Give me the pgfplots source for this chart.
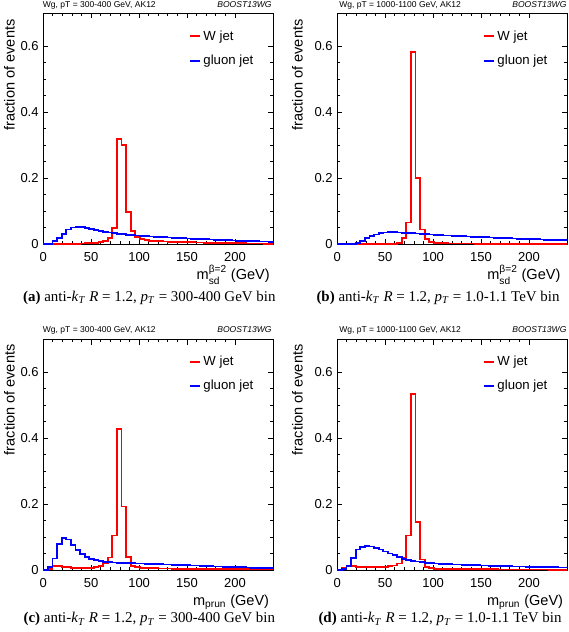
\documentclass[border=0pt]{standalone}
\usepackage{fontspec}
\setmainfont{Liberation Sans}
\newfontfamily\capfont{Liberation Serif}
\usepackage{amsmath}
\usepackage{pgfplots}
\usepackage{pgfplotstable}
\pgfplotsset{compat=1.18}
\definecolor{hred}{RGB}{255,0,0}
\definecolor{hblue}{RGB}{0,0,255}

% bin index i: bin covers [4.8 i, 4.8 (i+1)] GeV; row 50 closes the last bin at 240
\pgfplotstableread{
i  aR     aB     bR     bB     cR     cB     dR     dB
0  0      0.0005 0      0      0.001  0.001  0.001  0.001
1  0      0.002  0      0.0005 0.003  0.008  0.005  0.003
2  0.0005 0.009  0      0.001  0.013  0.035  0.013  0.012
3  0.001  0.018  0      0.002  0.013  0.080  0.012  0.037
4  0.001  0.031  0      0.005  0.010  0.098  0.010  0.062
5  0.0015 0.045  0.0003 0.011  0.008  0.093  0.009  0.070
6  0.002  0.051  0.0003 0.018  0.007  0.075  0.008  0.072
7  0.002  0.053  0.0003 0.025  0.006  0.060  0.008  0.071
8  0.0025 0.052  0.0003 0.030  0.006  0.048  0.008  0.067
9  0.003  0.049  0.0003 0.034  0.006  0.040  0.009  0.062
10 0.004  0.046  0.0008 0.036  0.007  0.034  0.010  0.056
11 0.005  0.043  0.001  0.037  0.009  0.030  0.012  0.050
12 0.007  0.040  0.0015 0.037  0.013  0.027  0.014  0.045
13 0.010  0.038  0.004  0.036  0.020  0.025  0.020  0.039
14 0.018  0.036  0.018  0.035  0.038  0.024  0.036  0.034
15 0.050  0.034  0.066  0.035  0.105  0.023  0.105  0.030
16 0.320  0.032  0.582  0.034  0.428  0.022  0.535  0.028
17 0.300  0.031  0.200  0.033  0.193  0.022  0.145  0.026
18 0.097  0.029  0.045  0.032  0.040  0.021  0.032  0.024
19 0.040  0.028  0.017  0.031  0.013  0.0205 0.010  0.022
20 0.021  0.027  0.008  0.030  0.009  0.020  0.005  0.021
21 0.015  0.026  0.005  0.029  0.007  0.0195 0.004  0.020
22 0.012  0.025  0.0035 0.028  0.006  0.019  0.0035 0.019
23 0.011  0.024  0.003  0.027  0.0055 0.0185 0.003  0.018
24 0.010  0.023  0.0027 0.0265 0.005  0.018  0.003  0.0175
25 0.009  0.022  0.0025 0.026  0.0048 0.0175 0.0028 0.017
26 0.0085 0.021  0.0024 0.025  0.0045 0.017  0.0027 0.0165
27 0.008  0.0205 0.0023 0.0245 0.0043 0.0165 0.0026 0.016
28 0.0075 0.020  0.0022 0.024  0.004  0.016  0.0025 0.0155
29 0.007  0.019  0.0021 0.023  0.0038 0.0155 0.0024 0.015
30 0.0068 0.018  0.002  0.022  0.0036 0.015  0.0023 0.0145
31 0.0065 0.0175 0.002  0.0215 0.0034 0.0145 0.0022 0.014
32 0.006  0.017  0.0019 0.021  0.0032 0.014  0.0021 0.0135
33 0.0057 0.0165 0.0019 0.0205 0.003  0.0135 0.002  0.013
34 0.0054 0.016  0.0018 0.020  0.0029 0.013  0.002  0.0125
35 0.005  0.0152 0.0018 0.019  0.0028 0.012  0.0019 0.012
36 0.0048 0.0145 0.0017 0.0185 0.0027 0.0115 0.0018 0.0117
37 0.0045 0.014  0.0016 0.018  0.0026 0.011  0.0017 0.0114
38 0.0042 0.0133 0.0016 0.0175 0.0025 0.0105 0.0016 0.011
39 0.004  0.0127 0.0015 0.017  0.0024 0.010  0.0016 0.0107
40 0.0037 0.012  0.0015 0.0165 0.0023 0.0095 0.0015 0.0104
41 0.0035 0.0115 0.0014 0.016  0.0022 0.009  0.0014 0.010
42 0.0033 0.011  0.0014 0.0155 0.0021 0.0085 0.0014 0.0097
43 0.003  0.0105 0.0013 0.015  0.002  0.008  0.0013 0.0094
44 0.0028 0.010  0.0013 0.0145 0.002  0.0075 0.0012 0.009
45 0.0026 0.0095 0.0012 0.014  0.0019 0.007  0.0012 0.0087
46 0.0024 0.009  0.0012 0.0135 0.0018 0.0065 0.0011 0.0084
47 0.0022 0.0087 0.0011 0.013  0.0018 0.006  0.0011 0.0081
48 0.002  0.0083 0.0011 0.0125 0.0017 0.0055 0.001  0.0078
49 0.002  0.008  0.001  0.012  0.0017 0.005  0.001  0.0075
50 0.002  0.008  0.001  0.012  0.0017 0.005  0.001  0.0075
}\histdata

\pgfplotsset{
  histax/.style={
    scale only axis, width=172.5pt,
    xmin=0, xmax=240, ymin=0, ymax=0.7,
    xtick={0,50,100,150,200}, ytick={0,0.2,0.4,0.6},
    minor x tick num=4, minor y tick num=3,
    major tick length=3.8pt, minor tick length=2.2pt,
    tick style={black, line width=0.6pt},
    axis line style={line width=0.75pt},
    ticklabel style={font=\fontsize{9.75}{11}\selectfont},
    /pgf/number format/assume math mode=true,
    yticklabel style={/pgf/number format/fixed},
    xticklabel style={yshift=-2.5pt},
    legend style={draw=none, fill=none, at={(0.617,0.95)}, anchor=north west,
      font=\fontsize{9.9}{11}\selectfont, row sep=6.5pt,
      nodes={inner sep=1.5pt}},
    legend cell align=left,
  },
  wjet/.style={draw=hred, color=hred, line width=1.3pt, const plot, mark=none},
  gjet/.style={draw=hblue, color=hblue, line width=1.3pt, const plot, mark=none},
}

\newcommand\hdrfont{\fontsize{6.4}{7}\selectfont}
\newcommand\ttlfont{\fontsize{10.9}{13}\selectfont}
\newcommand\capfnt{\capfont\fontsize{11.2}{13}\selectfont}
\newcommand\legw{\addlegendimage{legend image code/.code={\draw[draw=hred,line width=1.5pt] (0pt,0pt) -- (7.5pt,0pt);}}\addlegendentry{W jet}}
\newcommand\legg{\addlegendimage{legend image code/.code={\draw[draw=hblue,line width=1.5pt] (0pt,0pt) -- (7.5pt,0pt);}}\addlegendentry{gluon jet}}

\begin{document}
\begin{tikzpicture}
\useasboundingbox (0,0) rectangle (426pt,474pt);

% ---------- (a) ----------
\begin{axis}[histax, height=173.25pt, at={(32.475pt,290.775pt)}, anchor=south west,
  legend style={at={(0.617,0.946)}}]
\addplot[wjet, forget plot] table[x expr=\thisrow{i}*4.8, y=aR] {\histdata};
\addplot[gjet, forget plot] table[x expr=\thisrow{i}*4.8, y=aB] {\histdata};
\legw \legg
\end{axis}
\node[anchor=base west, inner sep=0, font=\hdrfont] at (32pt,468.4pt) {Wg, pT = 300-400 GeV, AK12};
\node[anchor=base east, inner sep=0, font=\hdrfont\itshape] at (203.8pt,468.4pt) {BOOST13WG};
\node[rotate=90, anchor=east, inner sep=0, font=\ttlfont] at (7pt,459.5pt) {fraction of events};
\node[anchor=base east, inner sep=0, font=\ttlfont] at (202.5pt,264pt) {$\text{m}^{\text{β=2}}_{\text{sd}}$ (GeV)};
\node[anchor=base, inner sep=0, font=\capfnt] at (112pt,247.9pt) {\textbf{(a)} anti-\textit{k}\textsubscript{\textit{T}} \textit{R} = 1.2, \textit{p}\textsubscript{\textit{T}} = 300-400 GeV bin};

% ---------- (b) ----------
\begin{axis}[histax, height=173.25pt, at={(252.975pt,290.775pt)}, anchor=south west,
  legend style={at={(0.617,0.946)}}]
\addplot[wjet, forget plot] table[x expr=\thisrow{i}*4.8, y=bR] {\histdata};
\addplot[gjet, forget plot] table[x expr=\thisrow{i}*4.8, y=bB] {\histdata};
\legw \legg
\end{axis}
\node[anchor=base west, inner sep=0, font=\hdrfont] at (254.25pt,468.4pt) {Wg, pT = 1000-1100 GeV, AK12};
\node[anchor=base east, inner sep=0, font=\hdrfont\itshape] at (425pt,468.4pt) {BOOST13WG};
\node[rotate=90, anchor=east, inner sep=0, font=\ttlfont] at (223pt,459.5pt) {fraction of events};
\node[anchor=base east, inner sep=0, font=\ttlfont] at (420.5pt,264pt) {$\text{m}^{\text{β=2}}_{\text{sd}}$ (GeV)};
\node[anchor=base, inner sep=0, font=\capfnt] at (328.5pt,247.9pt) {\textbf{(b)} anti-\textit{k}\textsubscript{\textit{T}} \textit{R} = 1.2, \textit{p}\textsubscript{\textit{T}} = 1.0-1.1 TeV bin};

% ---------- (c) ----------
\begin{axis}[histax, height=172.9pt, at={(32.475pt,46.5pt)}, anchor=south west]
\addplot[wjet, forget plot] table[x expr=\thisrow{i}*4.8, y=cR] {\histdata};
\addplot[gjet, forget plot] table[x expr=\thisrow{i}*4.8, y=cB] {\histdata};
\legw \legg
\end{axis}
\node[anchor=base west, inner sep=0, font=\hdrfont] at (32pt,224.3pt) {Wg, pT = 300-400 GeV, AK12};
\node[anchor=base east, inner sep=0, font=\hdrfont\itshape] at (203.8pt,224.3pt) {BOOST13WG};
\node[rotate=90, anchor=east, inner sep=0, font=\ttlfont] at (7pt,215.8pt) {fraction of events};
\node[anchor=base east, inner sep=0, font=\ttlfont] at (202pt,19.9pt) {$\text{m}_{\text{prun}}$ (GeV)};
\node[anchor=base, inner sep=0, font=\capfnt] at (112pt,6.75pt) {\textbf{(c)} anti-\textit{k}\textsubscript{\textit{T}} \textit{R} = 1.2, \textit{p}\textsubscript{\textit{T}} = 300-400 GeV bin};

% ---------- (d) ----------
\begin{axis}[histax, height=172.9pt, at={(252.975pt,46.5pt)}, anchor=south west]
\addplot[wjet, forget plot] table[x expr=\thisrow{i}*4.8, y=dR] {\histdata};
\addplot[gjet, forget plot] table[x expr=\thisrow{i}*4.8, y=dB] {\histdata};
\legw \legg
\end{axis}
\node[anchor=base west, inner sep=0, font=\hdrfont] at (254.25pt,224.3pt) {Wg, pT = 1000-1100 GeV, AK12};
\node[anchor=base east, inner sep=0, font=\hdrfont\itshape] at (425pt,224.3pt) {BOOST13WG};
\node[rotate=90, anchor=east, inner sep=0, font=\ttlfont] at (223pt,215.8pt) {fraction of events};
\node[anchor=base east, inner sep=0, font=\ttlfont] at (422.5pt,19.9pt) {$\text{m}_{\text{prun}}$ (GeV)};
\node[anchor=base, inner sep=0, font=\capfnt] at (330pt,6.75pt) {\textbf{(d)} anti-\textit{k}\textsubscript{\textit{T}} \textit{R} = 1.2, \textit{p}\textsubscript{\textit{T}} = 1.0-1.1 TeV bin};
\end{tikzpicture}
\end{document}
